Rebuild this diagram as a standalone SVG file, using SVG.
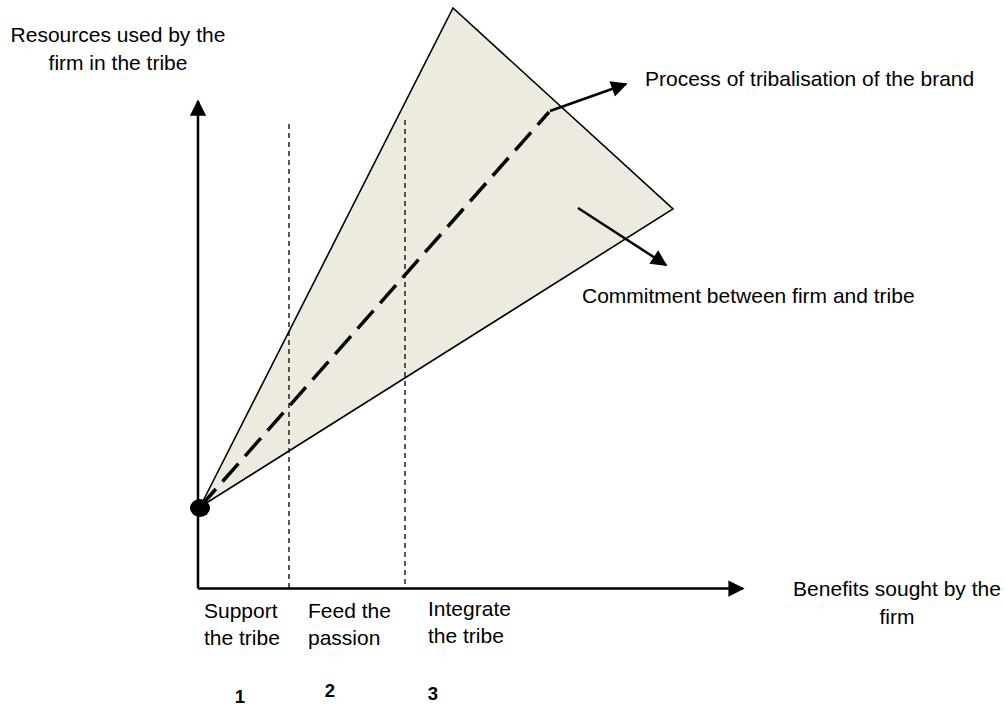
<svg xmlns="http://www.w3.org/2000/svg" width="1005" height="709" viewBox="0 0 1005 709">
<defs>
<style>
text{font-family:"Liberation Sans",Arial,sans-serif;font-size:21px;fill:#000}
.num{font-weight:bold;font-size:18.5px}
.axis{stroke:#000;stroke-width:2.5;fill:none}
.guide{stroke:#000;stroke-width:1.3;stroke-dasharray:5,4;fill:none}
.pointer{stroke:#000;stroke-width:2.5;fill:none}
</style>
<marker id="ah" viewBox="0 0 10 10" refX="9" refY="5" markerWidth="6.5" markerHeight="6.5" orient="auto" markerUnits="strokeWidth">
<path d="M0,0 L10,5 L0,10 Z" fill="#000"/>
</marker>
<marker id="ah2" viewBox="0 0 10 10" refX="9" refY="5" markerWidth="7.5" markerHeight="6.5" orient="auto" markerUnits="strokeWidth">
<path d="M0,0 L10,5 L0,10 Z" fill="#000"/>
</marker>
</defs>
<rect width="1005" height="709" fill="#fff"/>
<g id="commitment-area">
<polygon points="200,507 453,8 673,209" fill="#EDEBE0" stroke="#000" stroke-width="1.6" stroke-linejoin="miter"/>
</g>
<g id="connectors">
<line class="guide" x1="289" y1="124" x2="289" y2="588"/>
<line class="guide" x1="405" y1="120" x2="405" y2="588"/>
<line x1="200" y1="507" x2="549" y2="112" stroke="#000" stroke-width="3.5" stroke-dasharray="24,10"/>
<line class="axis" x1="198" y1="588.5" x2="198" y2="101" marker-end="url(#ah)"/>
<line class="axis" x1="198" y1="588.5" x2="743" y2="588.5" marker-end="url(#ah)"/>
<line class="pointer" x1="550" y1="111" x2="626" y2="84" marker-end="url(#ah2)"/>
<line class="pointer" x1="578" y1="208" x2="666" y2="265" marker-end="url(#ah2)"/>
</g>
<g id="origin">
<ellipse cx="200" cy="508" rx="10" ry="9" fill="#000"/>
</g>
<g id="y-label">
<text x="118" y="42" text-anchor="middle">Resources used by the</text>
<text x="118" y="70" text-anchor="middle">firm in the tribe</text>
</g>
<g id="x-label">
<text x="897" y="596" text-anchor="middle">Benefits sought by the</text>
<text x="897" y="624" text-anchor="middle">firm</text>
</g>
<g id="process-label">
<text x="645" y="86">Process of tribalisation of the brand</text>
</g>
<g id="commitment-label">
<text x="582" y="303">Commitment between firm and tribe</text>
</g>
<g id="stage-1">
<text x="204" y="618">Support</text>
<text x="204" y="645">the tribe</text>
<text class="num" x="240" y="703" text-anchor="middle">1</text>
</g>
<g id="stage-2">
<text x="308" y="618">Feed the</text>
<text x="308" y="645">passion</text>
<text class="num" x="330" y="697" text-anchor="middle">2</text>
</g>
<g id="stage-3">
<text x="428" y="616">Integrate</text>
<text x="428" y="643">the tribe</text>
<text class="num" x="433" y="700" text-anchor="middle">3</text>
</g>
</svg>
